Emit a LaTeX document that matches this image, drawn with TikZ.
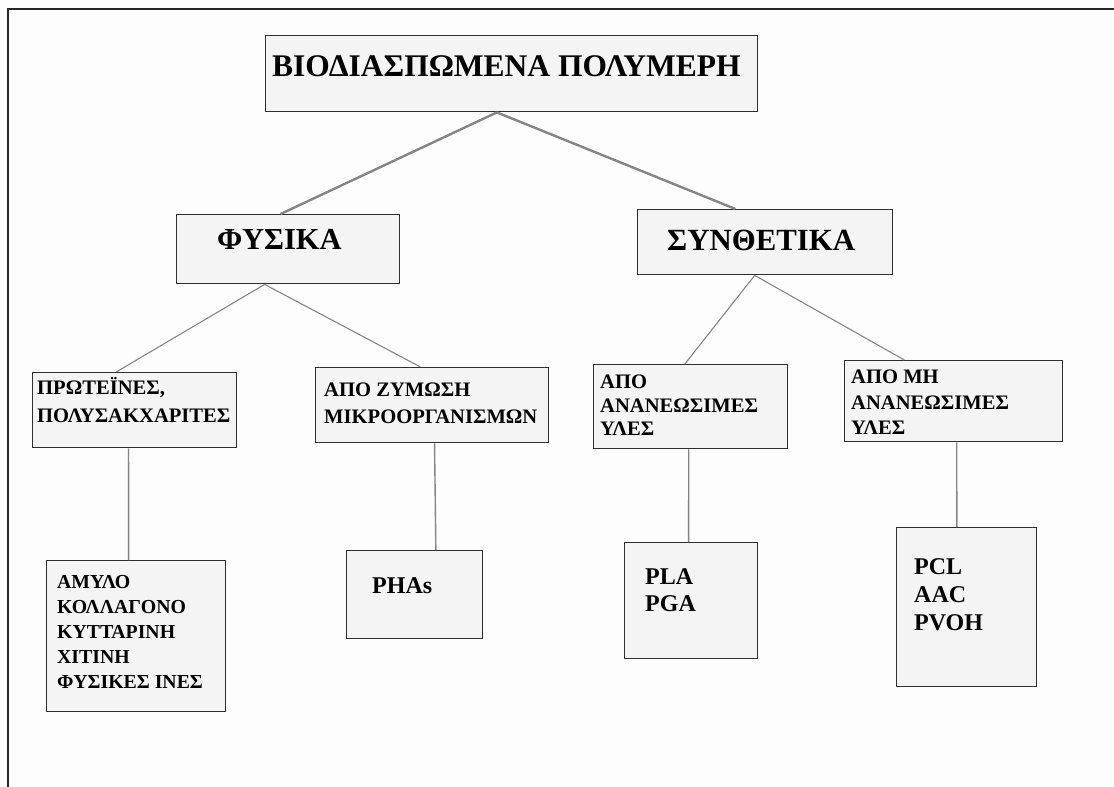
\documentclass[tikz,border=0pt]{standalone}
\usepackage{fontspec}
\setmainfont{Liberation Serif}
\usepackage{tikz}
\usetikzlibrary{calc}
\usepackage{xcolor}
\definecolor{boxfill}{HTML}{F4F4F4}
\definecolor{boxline}{HTML}{2E2E2E}
\definecolor{linkgray}{HTML}{858585}
\definecolor{pagebg}{HTML}{FDFDFD}

\begin{document}
\begin{tikzpicture}[x=1pt, y=-1pt,
    box/.style={draw=boxline, fill=boxfill, line width=1.4pt, anchor=north west,
                inner sep=0pt},
    txt/.style={anchor=north west, inner sep=0pt, align=left},
    head/.style={txt, font=\fontsize{#1}{34}\selectfont\bfseries},
    mid/.style={txt, font=\fontsize{20.6}{#1}\selectfont\bfseries},
    leaf/.style={txt, font=\fontsize{24}{28}\selectfont\bfseries},
    trunk/.style={linkgray, line width=2.4pt},
    branch/.style={linkgray, line width=1.1pt},
    stem/.style={linkgray, line width=1.4pt},
  ]
    \fill[pagebg] (0,0) rectangle (1114,787);
    \useasboundingbox (0,0) rectangle (1114,787);
    \draw[line width=2.5pt, black!85] (1114,9) -- (8,9) -- (8,787);

    % boxes
    \node[box, minimum width=492, minimum height=76]  (root) at (265,35)  {};
    \node[box, minimum width=223, minimum height=69]  (fys)  at (176,214) {};
    \node[box, minimum width=255, minimum height=65]  (syn)  at (637,209) {};
    \node[box, minimum width=204, minimum height=75]  (prot) at (32,372)  {};
    \node[box, minimum width=233, minimum height=75]  (zym)  at (315,367) {};
    \node[box, minimum width=194, minimum height=84]  (anan) at (593,364) {};
    \node[box, minimum width=218, minimum height=81]  (mh)   at (844,360) {};
    \node[box, minimum width=179, minimum height=151] (amyl) at (46,560)  {};
    \node[box, minimum width=136, minimum height=88]  (pha)  at (346,550) {};
    \node[box, minimum width=133, minimum height=116] (pla)  at (624,542) {};
    \node[box, minimum width=140, minimum height=159] (pcl)  at (896,527) {};

    % texts
    \node[head=31.5] (rootT) at (272,55)  {ΒΙΟΔΙΑΣΠΩΜΕΝΑ ΠΟΛΥΜΕΡΗ};
    \node[head=30.5] (fysT)  at (217,229) {ΦΥΣΙΚΑ};
    \node[head=30.8] (synT)  at (667,230) {ΣΥΝΘΕΤΙΚΑ};
    \node[mid=28]   (protT) at (37,377)  {ΠΡΩΤΕΪΝΕΣ,\\ΠΟΛΥΣΑΚΧΑΡΙΤΕΣ};
    \node[mid=27]   (zymT)  at (324,383) {ΑΠΟ ΖΥΜΩΣΗ\\ΜΙΚΡΟΟΡΓΑΝΙΣΜΩΝ};
    \node[mid=23.5] (ananT) at (600,375) {ΑΠΟ\\ΑΝΑΝΕΩΣΙΜΕΣ\\ΥΛΕΣ};
    \node[mid=25.5] (mhT)   at (851,370) {ΑΠΟ ΜΗ\\ΑΝΑΝΕΩΣΙΜΕΣ\\ΥΛΕΣ};
    \node[txt, font=\fontsize{19.8}{25}\selectfont\bfseries] (amylT) at (57,575)
      {ΑΜΥΛΟ\\ΚΟΛΛΑΓΟΝΟ\\ΚΥΤΤΑΡΙΝΗ\\ΧΙΤΙΝΗ\\ΦΥΣΙΚΕΣ ΙΝΕΣ};
    \node[leaf] (phaT) at (372,577) {PHAs};
    \node[leaf, font=\fontsize{24}{27}\selectfont\bfseries] (plaT) at (645,568) {PLA\\PGA};
    \node[leaf] (pclT) at (914,558) {PCL\\AAC\\PVOH};

    % links
    \draw[trunk] ($(root.south west)!0.47!(root.south east)$) -- ($(fys.north west)!0.466!(fys.north east)$);
    \draw[trunk] ($(root.south west)!0.47!(root.south east)$) -- ($(syn.north west)!0.384!(syn.north east)$);
    \draw[branch] ($(fys.south west)!0.395!(fys.south east)$) -- ($(prot.north west)!0.41!(prot.north east)$);
    \draw[branch] ($(fys.south west)!0.395!(fys.south east)$) -- ($(zym.north west)!0.45!(zym.north east)$);
    \draw[branch] ($(syn.south west)!0.459!(syn.south east)$) -- ($(anan.north west)!0.47!(anan.north east)$);
    \draw[branch] ($(syn.south west)!0.459!(syn.south east)$) -- ($(mh.north west)!0.275!(mh.north east)$);
    \draw[stem] ($(prot.south west)!0.47!(prot.south east)$) -- ($(amyl.north west)!0.458!(amyl.north east)$);
    \draw[stem] ($(zym.south west)!0.51!(zym.south east)$) -- ($(pha.north west)!0.654!(pha.north east)$);
    \draw[stem] ($(anan.south west)!0.49!(anan.south east)$) -- ($(pla.north west)!0.481!(pla.north east)$);
    \draw[stem] ($(mh.south west)!0.514!(mh.south east)$) -- ($(pcl.north west)!0.43!(pcl.north east)$);
  \end{tikzpicture}
\end{document}
